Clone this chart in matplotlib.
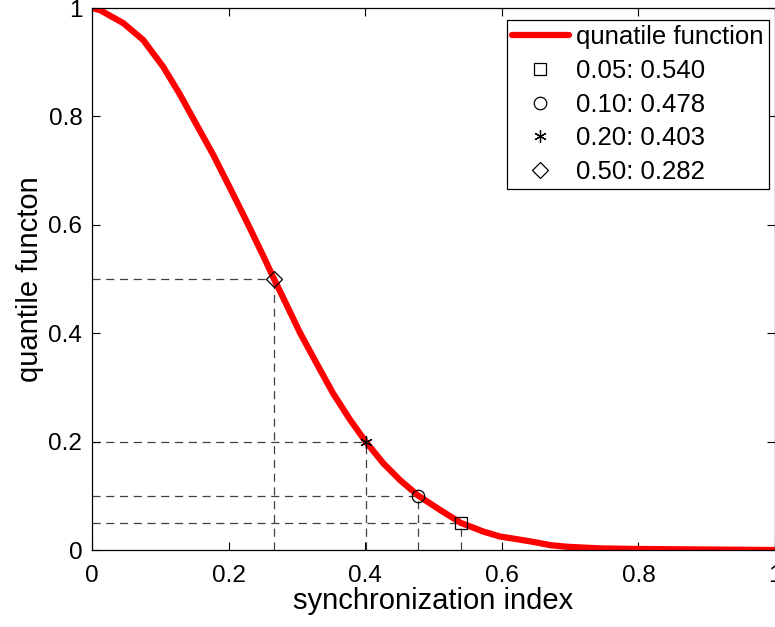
import matplotlib
matplotlib.use("Agg")
import matplotlib.pyplot as plt

plt.rcParams['font.family'] = ['Liberation Sans', 'DejaVu Sans']

# quantile curve
sync_x = [0.0, 0.012, 0.046, 0.075, 0.104, 0.129, 0.153, 0.178, 0.202, 0.2265,
          0.251, 0.2665, 0.282, 0.3045, 0.329, 0.353, 0.378, 0.4007, 0.4265,
          0.451, 0.478, 0.5095, 0.540, 0.573, 0.597, 0.622, 0.646, 0.671,
          0.695, 0.744, 0.792, 0.89, 1.0]
quant_y = [1.0, 0.996, 0.972, 0.941, 0.892, 0.840, 0.785, 0.728, 0.668, 0.606,
           0.542, 0.500, 0.460, 0.401, 0.344, 0.289, 0.240, 0.200, 0.160,
           0.129, 0.100, 0.074, 0.050, 0.034, 0.025, 0.020, 0.015, 0.009,
           0.006, 0.003, 0.002, 0.001, 0.0]

# marked quantiles
levels = [0.05, 0.10, 0.20, 0.50]
idx_vals = [0.540, 0.478, 0.4007, 0.2665]
labels = ['0.05: 0.540', '0.10: 0.478', '0.20: 0.403', '0.50: 0.282']
markers = ['s', 'o', (6, 2, 0), 'D']
msizes = [9, 9, 9, 8]

fig = plt.figure(figsize=(7.75, 6.27), dpi=100)
ax = fig.add_axes([0.1187, 0.1228, 0.8813, 0.8644])

for lv, xv in zip(levels, idx_vals):
    ax.plot([0, xv], [lv, lv], ls=(0, (6.5, 4.5)), color='#404040', lw=0.9, zorder=1)
    ax.plot([xv, xv], [0, lv], ls=(0, (6.5, 4.5)), color='#404040', lw=0.9, zorder=1)

ax.plot(sync_x, quant_y, color='#ff0000', lw=4.5, label='qunatile function',
        zorder=2, solid_joinstyle='round', solid_capstyle='round')

for lv, xv, lab, mk, ms in zip(levels, idx_vals, labels, markers, msizes):
    ax.plot([xv], [lv], ls='none', marker=mk, ms=ms, mfc='none', mec='black',
            mew=0.9, label=lab, zorder=3)

ax.set_xlim(0, 1)
ax.set_ylim(0, 1)
ticks = [0, 0.2, 0.4, 0.6, 0.8, 1]
ax.set_xticks(ticks)
ax.set_yticks(ticks)
ax.set_xticklabels(['0', '0.2', '0.4', '0.6', '0.8', '1'])
ax.set_yticklabels(['0', '0.2', '0.4', '0.6', '0.8', '1'])
ax.tick_params(direction='in', top=True, right=True, length=6, width=0.8,
               labelsize=17.5)
ax.tick_params(axis='x', pad=11)
ax.tick_params(axis='y', pad=7)
for sp in ax.spines.values():
    sp.set_linewidth(0.9)

ax.set_xlabel('synchronization index', fontsize=21, labelpad=0)
ax.set_ylabel('quantile functon', fontsize=21, labelpad=3)

leg = ax.legend(loc='upper right', bbox_to_anchor=(0.991, 0.978), borderaxespad=0,
                fontsize=18.5, frameon=True, fancybox=False,
                edgecolor='black', framealpha=1, handlelength=2.2,
                labelspacing=0.38, handletextpad=0.3, borderpad=0.2)
leg.get_frame().set_linewidth(0.9)

fig.savefig('out.png', dpi=100)
